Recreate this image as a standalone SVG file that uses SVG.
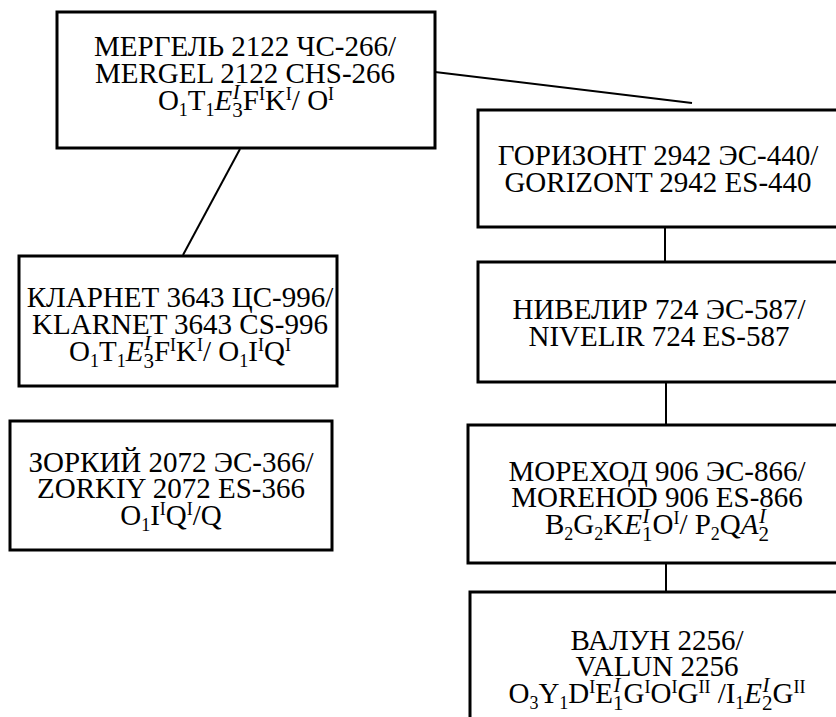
<svg xmlns="http://www.w3.org/2000/svg" width="836" height="717" viewBox="0 0 836 717">
<style>
.box{fill:#fff;stroke:#000;stroke-width:3}
.ln{stroke:#000;stroke-width:2;fill:none}
.t{font-family:"Liberation Serif","Times New Roman",serif;font-size:29px;text-anchor:middle;fill:#000}
.s{font-size:18px}
.m{font-size:21px}
.i{font-style:italic}
</style>
<rect width="836" height="717" fill="#fff"/>
<g id="connectors">
<line class="ln" x1="435" y1="72" x2="692" y2="103"/>
<line class="ln" x1="240" y1="149" x2="183" y2="255"/>
<line class="ln" x1="665" y1="225" x2="665" y2="262"/>
<line class="ln" x1="666" y1="382" x2="666" y2="425"/>
<line class="ln" x1="666" y1="561" x2="666" y2="592"/>
</g>
<g id="mergel">
<rect class="box" x="57" y="12" width="378" height="136"/>
<text class="t" x="245" y="56">МЕРГЕЛЬ 2122 ЧС-266/</text>
<text class="t" x="245" y="83">MERGEL 2122 CHS-266</text>
<text class="t" x="246" y="110">O<tspan class="s" dy="6">1</tspan><tspan dy="-6">T</tspan><tspan class="s" dy="6">1</tspan><tspan class="i" dy="-6">E</tspan><tspan class="m" dy="7">3</tspan><tspan class="m i" dx="-10" dy="-18">I</tspan><tspan dx="3" dy="11">F</tspan><tspan class="s" dy="-10">I</tspan><tspan dy="10">K</tspan><tspan class="s" dy="-10">I</tspan><tspan dy="10">/ O</tspan><tspan class="s" dy="-10">I</tspan></text>
</g>
<g id="klarnet">
<rect class="box" x="19" y="256" width="318" height="130"/>
<text class="t" x="180" y="307">КЛАРНЕТ 3643 ЦС-996/</text>
<text class="t" x="180" y="334">KLARNET 3643 CS-996</text>
<text class="t" x="180" y="361">O<tspan class="s" dy="6">1</tspan><tspan dy="-6">T</tspan><tspan class="s" dy="6">1</tspan><tspan class="i" dy="-6">E</tspan><tspan class="m" dy="7">3</tspan><tspan class="m i" dx="-10" dy="-18">I</tspan><tspan dx="3" dy="11">F</tspan><tspan class="s" dy="-10">I</tspan><tspan dy="10">K</tspan><tspan class="s" dy="-10">I</tspan><tspan dy="10">/ O</tspan><tspan class="s" dy="6">1</tspan><tspan dy="-6">I</tspan><tspan class="s" dy="-10">I</tspan><tspan dy="10">Q</tspan><tspan class="s" dy="-10">I</tspan></text>
</g>
<g id="zorkiy">
<rect class="box" x="10" y="421" width="322" height="129"/>
<text class="t" x="171" y="472">ЗОРКИЙ 2072 ЭС-366/</text>
<text class="t" x="171" y="498">ZORKIY 2072 ES-366</text>
<text class="t" x="171" y="525">O<tspan class="s" dy="6">1</tspan><tspan dy="-6">I</tspan><tspan class="s" dy="-10">I</tspan><tspan dy="10">Q</tspan><tspan class="s" dy="-10">I</tspan><tspan dy="10">/Q</tspan></text>
</g>
<g id="gorizont">
<rect class="box" x="478" y="110" width="380" height="117"/>
<text class="t" x="658" y="165">ГОРИЗОНТ 2942 ЭС-440/</text>
<text class="t" x="658" y="192">GORIZONT 2942 ES-440</text>
</g>
<g id="nivelir">
<rect class="box" x="478" y="262" width="380" height="120"/>
<text class="t" x="659" y="319">НИВЕЛИР 724 ЭС-587/</text>
<text class="t" x="659" y="346">NIVELIR 724 ES-587</text>
</g>
<g id="morehod">
<rect class="box" x="468" y="425" width="390" height="138"/>
<text class="t" x="657" y="481">МОРЕХОД 906 ЭС-866/</text>
<text class="t" x="657" y="507">MOREHOD 906 ES-866</text>
<text class="t" x="657" y="534">B<tspan class="s" dy="6">2</tspan><tspan dy="-6">G</tspan><tspan class="s" dy="6">2</tspan><tspan dy="-6">K</tspan><tspan class="i">E</tspan><tspan class="m" dy="7">1</tspan><tspan class="m i" dx="-10" dy="-18">I</tspan><tspan dx="3" dy="11">O</tspan><tspan class="s" dy="-10">I</tspan><tspan dy="10">/ P</tspan><tspan class="s" dy="6">2</tspan><tspan dy="-6">Q</tspan><tspan class="i">A</tspan><tspan class="m" dy="7">2</tspan><tspan class="m i" dx="-10" dy="-18">I</tspan></text>
</g>
<g id="valun">
<rect class="box" x="470" y="592" width="390" height="140"/>
<text class="t" x="657" y="650">ВАЛУН 2256/</text>
<text class="t" x="657" y="676">VALUN 2256</text>
<text class="t" x="657" y="703">O<tspan class="s" dy="6">3</tspan><tspan dy="-6">Y</tspan><tspan class="s" dy="6">1</tspan><tspan dy="-6">D</tspan><tspan class="s" dy="-10">I</tspan><tspan dy="10">E</tspan><tspan class="m" dy="7">1</tspan><tspan class="m i" dx="-10" dy="-18">I</tspan><tspan dx="3" dy="11">G</tspan><tspan class="s" dy="-10">I</tspan><tspan dy="10">O</tspan><tspan class="s" dy="-10">I</tspan><tspan dy="10">G</tspan><tspan class="s" dy="-10">II</tspan><tspan dy="10"> /I</tspan><tspan class="s" dy="6">1</tspan><tspan class="i" dy="-6">E</tspan><tspan class="m" dy="7">2</tspan><tspan class="m i" dx="-10" dy="-18">I</tspan><tspan dx="3" dy="11">G</tspan><tspan class="s" dy="-10">II</tspan></text>
</g>
</svg>
